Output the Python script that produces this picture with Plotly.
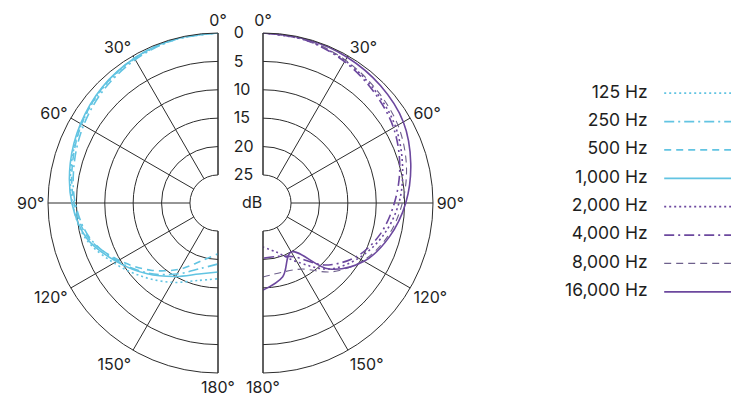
import plotly.graph_objects as go

# ---------------- data ----------------
angles = [0, 15, 30, 45, 60, 75, 90, 105, 120, 135, 150, 165, 180]

labels_left = ["125 Hz", "250 Hz", "500 Hz", "1,000 Hz"]
labels_right = ["2,000 Hz", "4,000 Hz", "8,000 Hz", "16,000 Hz"]

db_125 = [0, 0.2, 0.6, 1.3, 2.2, 3.2, 4.3, 5.8, 8.8, 11.5, 13.8, 15.8, 16.6]
db_250 = [0, 0.2, 0.8, 1.6, 2.6, 3.7, 4.8, 6.5, 9.5, 12.5, 15.5, 18.0, 19.2]
db_500 = [0, 0.1, 0.5, 1.2, 2.2, 3.4, 4.6, 6.3, 9.8, 13.2, 16.5, 19.5, 21.0]
db_1000 = [0, 0.1, 0.5, 1.1, 2.0, 3.0, 4.2, 6.0, 9.3, 12.3, 15.0, 17.0, 17.8]

db_2000 = [0, 0.3, 1.0, 2.0, 3.0, 4.5, 6.0, 8.0, 10.5, 13.5, 18.0, 21.0, 22.2]
db_4000 = [0, 0.3, 1.2, 2.3, 3.4, 5.0, 6.8, 8.6, 11.0, 14.5, 19.0, 20.2, 20.2]
db_8000 = [0, 0.2, 0.9, 1.7, 2.5, 3.8, 5.4, 7.2, 9.6, 12.8, 16.5, 17.3, 16.9]
db_16000 = [0, 0.1, 0.3, 0.7, 1.4, 3.0, 4.8, 6.9, 9.4, 13.5, 20.0, 16.5, 14.6]

radial_ticks = [0, 5, 10, 15, 20, 25]
angle_ticks = [0, 30, 60, 90, 120, 150, 180]
angle_labels = ["0°", "30°", "60°", "90°", "120°", "150°", "180°"]

# ---------------- styles ----------------
CYAN = "rgb(98,196,226)"
PURPLE = "rgb(108,72,158)"
GREY_PURPLE = "rgb(110,96,140)"
GRID = "rgb(45,45,45)"
TXT = "#1e1e1e"
FONT = "Inter"

left_series = [
    (labels_left[0], db_125, CYAN, "2px,3px", 1.6),
    (labels_left[1], db_250, CYAN, "10px,4px,2px,4px", 1.6),
    (labels_left[2], db_500, CYAN, "7px,5px", 1.6),
    (labels_left[3], db_1000, CYAN, "solid", 1.6),
]
right_series = [
    (labels_right[0], db_2000, PURPLE, "2px,3px", 1.6),
    (labels_right[1], db_4000, PURPLE, "10px,4px,2px,4px", 1.6),
    (labels_right[2], db_8000, GREY_PURPLE, "7px,5px", 1.1),
    (labels_right[3], db_16000, PURPLE, "solid", 1.6),
]

fig = go.Figure()

for name, vals, col, dash, w in left_series:
    fig.add_trace(go.Scatterpolar(
        r=vals, theta=angles, mode="lines", name=name, subplot="polar",
        line=dict(color=col, dash=dash, width=w, shape="spline", smoothing=1),
        showlegend=False, hoverinfo="skip"))

for name, vals, col, dash, w in right_series:
    fig.add_trace(go.Scatterpolar(
        r=vals, theta=angles, mode="lines", name=name, subplot="polar2",
        line=dict(color=col, dash=dash, width=w, shape="spline", smoothing=1),
        showlegend=False, hoverinfo="skip"))

# ---------------- custom legend (label left, sample right) ----------------
all_series = left_series + right_series
for i, (name, vals, col, dash, w) in enumerate(all_series):
    fig.add_trace(go.Scatter(
        x=[0.635, 1.0], y=[i, i], mode="lines", xaxis="x", yaxis="y",
        line=dict(color=col, dash=dash, width=w + 0.2),
        showlegend=False, hoverinfo="skip", cliponaxis=True))
fig.add_trace(go.Scatter(
    x=[0.545] * len(all_series), y=list(range(len(all_series))),
    mode="text", text=[s[0] for s in all_series], textposition="middle left",
    textfont=dict(family=FONT, size=17.5, color=TXT),
    xaxis="x", yaxis="y", showlegend=False, hoverinfo="skip", cliponaxis=False))

common_radial = dict(
    range=[25, 0], tickvals=radial_ticks, showline=False,
    gridcolor=GRID, gridwidth=1,
)
common_angular = dict(
    tickvals=angle_ticks, ticktext=angle_labels, rotation=90,
    showline=True, linecolor=GRID, linewidth=1, gridcolor=GRID, gridwidth=1,
    ticks="", tickfont=dict(family=FONT, size=16, color=TXT),
)

fig.update_layout(
    width=731, height=398,
    margin=dict(l=0, r=0, t=0, b=0),
    paper_bgcolor="white", plot_bgcolor="white",
    font=dict(family=FONT, size=16, color=TXT),
    polar=dict(
        domain=dict(x=[48 / 731, 218 / 731], y=[25 / 398, 365 / 398]),
        sector=[90, 270], hole=0.165, bgcolor="white",
        radialaxis=dict(**common_radial, angle=90, side="clockwise",
                        showticklabels=True, tickangle=90,
                        ticks="outside", ticklen=12, tickcolor="rgba(0,0,0,0)",
                        tickfont=dict(family=FONT, size=16, color=TXT)),
        angularaxis=dict(**common_angular, direction="counterclockwise"),
    ),
    polar2=dict(
        domain=dict(x=[263 / 731, 433 / 731], y=[25 / 398, 365 / 398]),
        sector=[-90, 90], hole=0.165, bgcolor="white",
        radialaxis=dict(**common_radial, angle=90, showticklabels=False, ticks=""),
        angularaxis=dict(**common_angular, direction="clockwise"),
    ),
    xaxis=dict(domain=[548 / 731, 1.0], range=[0, 1], visible=False, fixedrange=True),
    yaxis=dict(domain=[1 - 306 / 398, 1 - 79 / 398], range=[7.5, -0.5],
               visible=False, fixedrange=True),
    annotations=[dict(text="dB", x=240 / 731, y=1 - 202 / 398, xref="paper", yref="paper",
                      showarrow=False, font=dict(family=FONT, size=16, color=TXT))],
)

fig.write_html("out.html")
